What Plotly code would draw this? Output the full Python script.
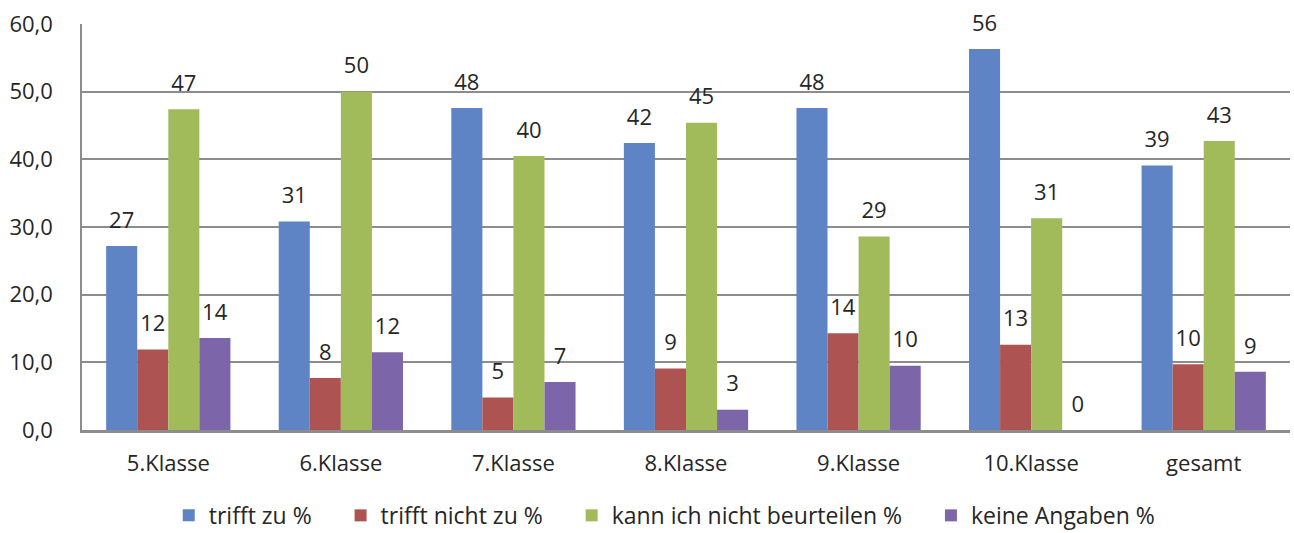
import plotly.graph_objects as go

categories = ["5.Klasse", "6.Klasse", "7.Klasse", "8.Klasse", "9.Klasse", "10.Klasse", "gesamt"]
series_names = ["trifft zu %", "trifft nicht zu %", "kann ich nicht beurteilen %", "keine Angaben %"]
trifft_zu = [27.2, 30.8, 47.6, 42.4, 47.6, 56.3, 39.1]
trifft_nicht_zu = [11.9, 7.7, 4.8, 9.1, 14.3, 12.6, 9.7]
kann_nicht = [47.4, 50.0, 40.5, 45.4, 28.6, 31.3, 42.7]
keine_angaben = [13.6, 11.5, 7.1, 3.0, 9.5, 0.0, 8.6]
colors = ["#5E84C5", "#AD5452", "#A1BA5A", "#7C65A9"]
y_ticks = [0, 10, 20, 30, 40, 50, 60]

FONT = "Open Sans"
PAD = "\u00a0" * 4  # extra spacing between legend entries
fig = go.Figure()
all_series = [trifft_zu, trifft_nicht_zu, kann_nicht, keine_angaben]
for i, (name, vals, col) in enumerate(zip(series_names, all_series, colors)):
    fig.add_trace(go.Bar(
        name=name + (PAD if i < len(series_names) - 1 else ""),
        x=categories, y=vals,
        marker=dict(color=col, line=dict(width=0)),
        text=[f"<span style='font-size:22px'>{round(v):d}</span><br>"
              f"<span style='font-size:4px;color:rgba(0,0,0,0)'>.</span>" for v in vals],
        texttemplate="%{text}",
        textposition="outside",
        constraintext="none",
        textfont=dict(family=FONT, size=11, color="#262626"),
        cliponaxis=False,
    ))

fig.update_layout(
    width=1294, height=533,
    margin=dict(l=82, r=4, t=24, b=103),
    paper_bgcolor="white", plot_bgcolor="white",
    barmode="group", bargap=0.28, bargroupgap=0,
    separators=",.",
    font=dict(family=FONT, size=20, color="#262626"),
    showlegend=True,
    legend=dict(orientation="h", x=0.482, xanchor="center", yref="container", y=0.033, yanchor="middle",
                font=dict(family=FONT, size=23, color="#262626"),
                itemwidth=30, traceorder="normal"),
)
fig.update_yaxes(range=[0, 60], tickvals=y_ticks, tickformat=".1f",
                 showgrid=True, gridcolor="#8C8C8C", gridwidth=1.5,
                 showline=True, linecolor="#8C8C8C", linewidth=1.5,
                 ticks="", ticklen=0, zeroline=False, ticklabelstandoff=23,
                 tickfont=dict(family=FONT, size=22, color="#262626"))
fig.update_xaxes(showline=True, linecolor="#8C8C8C", linewidth=2.5, ticks="",
                 ticklabelstandoff=12,
                 tickfont=dict(family=FONT, size=22, color="#262626"))

fig.write_html("out.html", config={"displayModeBar": False},
               post_script="document.body.style.margin='0';")
